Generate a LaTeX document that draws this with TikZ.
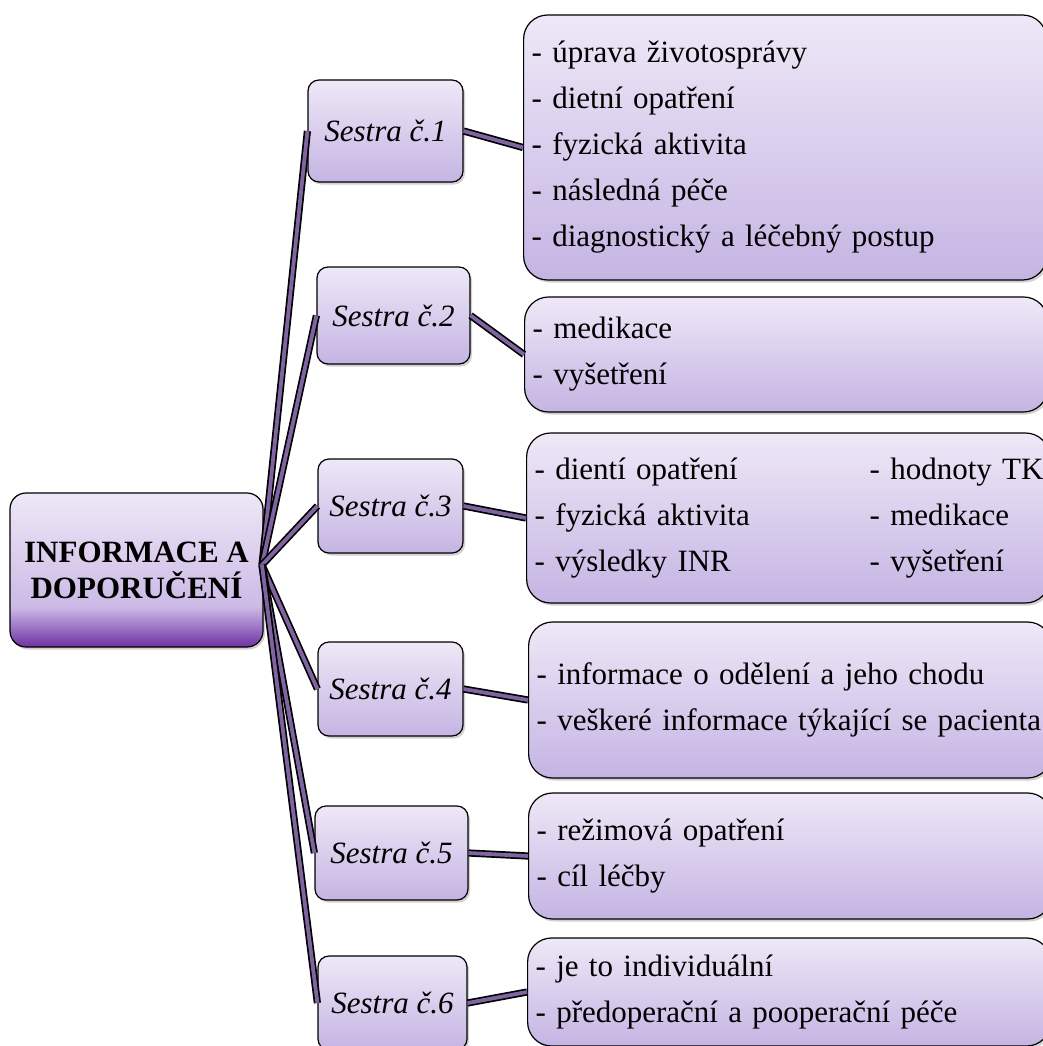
\documentclass[tikz,border=0pt]{standalone}
\usepackage{fontspec}
\setmainfont{Liberation Serif}
\usetikzlibrary{shadows}

\definecolor{conncol}{RGB}{128,100,162}
\definecolor{boxtop}{RGB}{238,232,247}
\definecolor{boxbot}{RGB}{197,180,227}
\definecolor{rootbot}{RGB}{112,48,160}
\definecolor{rootlow}{RGB}{154,112,196}
\definecolor{rootmid}{RGB}{204,186,230}

% root fill: pale lavender that darkens to purple near the bottom edge
\pgfdeclareverticalshading{rootshading}{100bp}{%
  color(0bp)=(rootbot); color(25bp)=(rootbot); color(31bp)=(rootlow);
  color(38bp)=(rootmid); color(75bp)=(boxtop); color(100bp)=(boxtop)}

\newcommand\itemfont{\fontsize{31bp}{46bp}\selectfont}
\newcommand\rootfont{\fontsize{31bp}{36bp}\selectfont\bfseries}

\tikzset{
  basebox/.style={draw=black, line width=1.2bp, top color=boxtop, bottom color=boxbot,
    drop shadow={shadow xshift=2bp, shadow yshift=-2.5bp, opacity=0.3, fill=black!60}},
  rootbox/.style={basebox, shading=rootshading, rounded corners=16bp, align=center,
    font=\rootfont, inner sep=0pt},
  nursebox/.style={basebox, rounded corners=11bp, font=\itemfont\itshape, inner sep=0pt},
  infobox/.style={basebox, rounded corners=24bp, align=left, text width=507bp,
    inner xsep=8bp, inner ysep=0pt, anchor=west, font=\itemfont},
  conn/.style={draw=black, line width=1.7bp, double=conncol, double distance=3.8bp},
}

\begin{document}
\begin{tikzpicture}[x=1bp, y=-1bp]
\useasboundingbox (0,0) rectangle (1043,1046);

% central topic
\node[rootbox, minimum width=253bp, minimum height=154bp] (root) at (136.5,570)
  {INFORMACE A\\DOPORUČENÍ};
\coordinate (hub) at (262,565);

% nurses
\node[nursebox, minimum width=155bp, minimum height=102bp] (s1) at (385.5,131) {Sestra č.1};
\node[nursebox, minimum width=153bp, minimum height=97bp]  (s2) at (393.5,315.5) {Sestra č.2};
\node[nursebox, minimum width=145bp, minimum height=94bp]  (s3) at (390.5,506) {Sestra č.3};
\node[nursebox, minimum width=145bp, minimum height=94bp]  (s4) at (390.5,689) {Sestra č.4};
\node[nursebox, minimum width=153bp, minimum height=94bp]  (s5) at (391.5,853) {Sestra č.5};
\node[nursebox, minimum width=149bp, minimum height=94bp]  (s6) at (392.5,1003) {Sestra č.6};

% answers of each nurse
\node[infobox, minimum height=265bp] (b1) at (523,147.5)
  {- úprava životosprávy\\- dietní opatření\\- fyzická aktivita\\- následná péče\\- diagnostický a léčebný postup};
\node[infobox, minimum height=115bp] (b2) at (524,354.5)
  {- medikace\\- vyšetření};
\node[infobox, minimum height=170bp] (b3) at (526,518)
  {\makebox[335bp][l]{- dientí opatření}\mbox{- hodnoty TK}\\
   \makebox[335bp][l]{- fyzická aktivita}\mbox{- medikace}\\
   \makebox[335bp][l]{- výsledky INR}\mbox{- vyšetření}};
\node[infobox, minimum height=156bp] (b4) at (528,700)
  {- informace o odělení a jeho chodu\\- veškeré informace týkající se pacienta};
\node[infobox, minimum height=126bp] (b5) at (528,856)
  {- režimová opatření\\- cíl léčby};
\node[infobox, minimum height=108bp] (b6) at (527,992)
  {- je to individuální\\- předoperační a pooperační péče};

% connectors
\foreach \i in {1,...,6}{
  \draw[conn] (hub) -- (s\i.west);
  \draw[conn] (s\i.east) -- (b\i.west);
}
\end{tikzpicture}
\end{document}
